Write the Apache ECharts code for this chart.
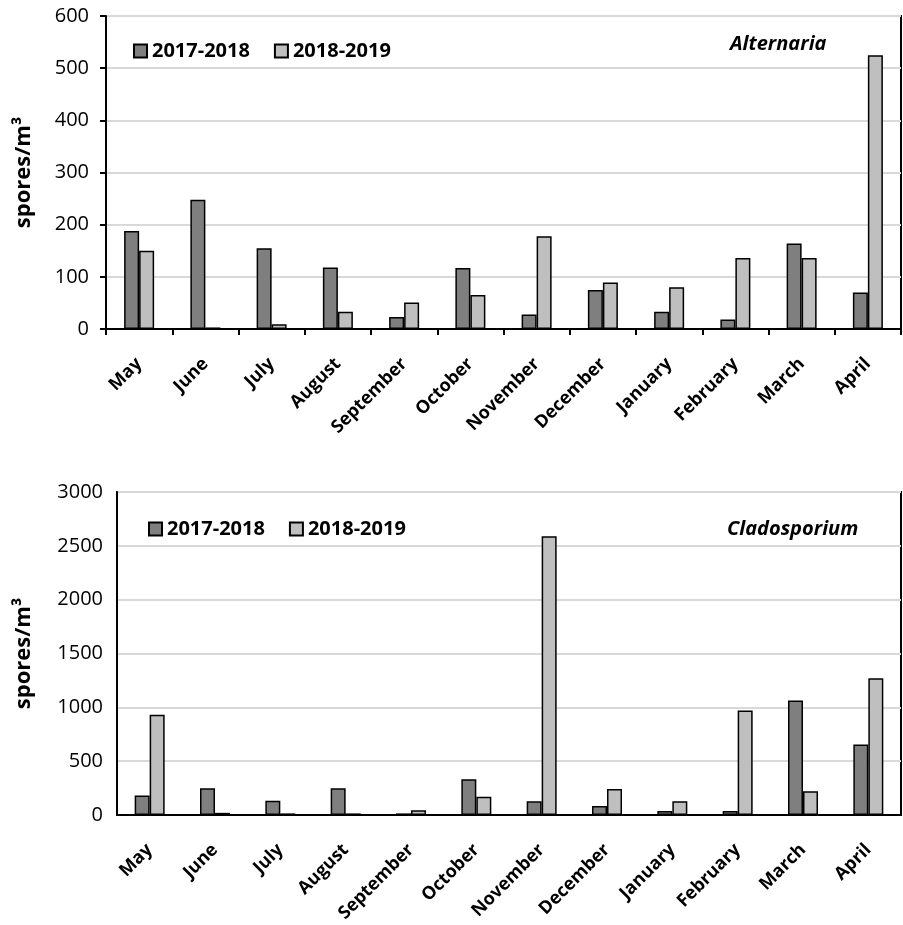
<!DOCTYPE html>
<html><head><meta charset="utf-8">
<script src="https://cdn.jsdelivr.net/npm/echarts@6/dist/echarts.min.js"></script>
<style>html,body{margin:0;padding:0;background:#fff}#c{width:903px;height:925px}</style>
</head><body><div id="c"></div><script>
const months = ['May','June','July','August','September','October','November','December','January','February','March','April'];
const seriesNames = ['2017-2018','2018-2019'];
const alternaria1718 = [188,248,155,118,23,117,28,75,33,18,164,70];
const alternaria1819 = [150,3,9,33,51,65,178,89,80,136,136,525];
const cladosporium1718 = [180,248,133,248,15,332,127,84,37,37,1064,654];
const cladosporium1819 = [930,20,15,15,43,170,2590,242,127,971,220,1269];
const altTicks = {min:0,max:600,interval:100};
const claTicks = {min:0,max:3000,interval:500};

const FONT = 'Open Sans';
const dark = '#7f7f7f', light = '#bfbfbf';
const chart = echarts.init(document.getElementById('c'), null, {renderer:'canvas'});

function bar(name, data, color, idx){
  return {type:'bar', name, data, xAxisIndex:idx, yAxisIndex:idx, barWidth:15, barGap:'0%',
    itemStyle:{color, borderColor:'#000', borderWidth:1.5}, animation:false};
}
function xAx(idx, ticks){
  return {type:'category', gridIndex:idx, data:months, boundaryGap:true,
    axisLine:{lineStyle:{color:'#000', width:2}},
    axisTick:{show:ticks, length:6, lineStyle:{color:'#000', width:2}},
    axisLabel:{interval:0, rotate:45, margin:32, color:'#000', fontFamily:FONT, fontWeight:'bold', fontSize:18},
    splitLine:{show:false}};
}
function yAx(idx, t, ticks, gap, margin){
  return {type:'value', gridIndex:idx, min:t.min, max:t.max, interval:t.interval,
    name:'spores/m³', nameLocation:'middle', nameGap:gap,
    nameTextStyle:{color:'#000', fontFamily:FONT, fontWeight:'bold', fontSize:22},
    axisLine:{show:true, lineStyle:{color:'#000', width:2}},
    axisTick:{show:ticks, length:6, lineStyle:{color:'#000', width:2}},
    axisLabel:{margin, color:'#000', fontFamily:FONT, fontSize:20, formatter:(v)=>String(v)},
    splitLine:{lineStyle:{color:'#d9d9d9', width:2}}};
}
function legend(left, top){
  return {show:true, left, top, itemWidth:13, itemHeight:13, itemGap:24, icon:'rect',
    data:seriesNames.map((n)=>({name:n})),
    textStyle:{color:'#000', fontFamily:FONT, fontWeight:'bold', fontSize:20},
    selectedMode:false};
}
chart.setOption({
  backgroundColor:'#fff',
  animation:false,
  title:[
    {text:'Alternaria', left:725, top:29, textStyle:{fontFamily:FONT, fontWeight:'bold', fontStyle:'italic', fontSize:20, color:'#000'}},
    {text:'Cladosporium', left:722, top:514, textStyle:{fontFamily:FONT, fontWeight:'bold', fontStyle:'italic', fontSize:20, color:'#000'}}
  ],
  legend:[legend(128,36), legend(143,514)],
  grid:[
    {left:106, top:16, width:795, height:313, show:true, borderColor:'#000', borderWidth:2, containLabel:false, outerBoundsMode:'none'},
    {left:117, top:492, width:784, height:323, show:true, borderColor:'#000', borderWidth:2, containLabel:false, outerBoundsMode:'none'}
  ],
  xAxis:[xAx(0,true), xAx(1,false)],
  yAxis:[yAx(0,altTicks,true,71,17), yAx(1,claTicks,false,82,14)],
  series:[
    bar(seriesNames[0], alternaria1718, dark, 0),
    bar(seriesNames[1], alternaria1819, light, 0),
    bar(seriesNames[0], cladosporium1718, dark, 1),
    bar(seriesNames[1], cladosporium1819, light, 1)
  ]
});
</script></body></html>
